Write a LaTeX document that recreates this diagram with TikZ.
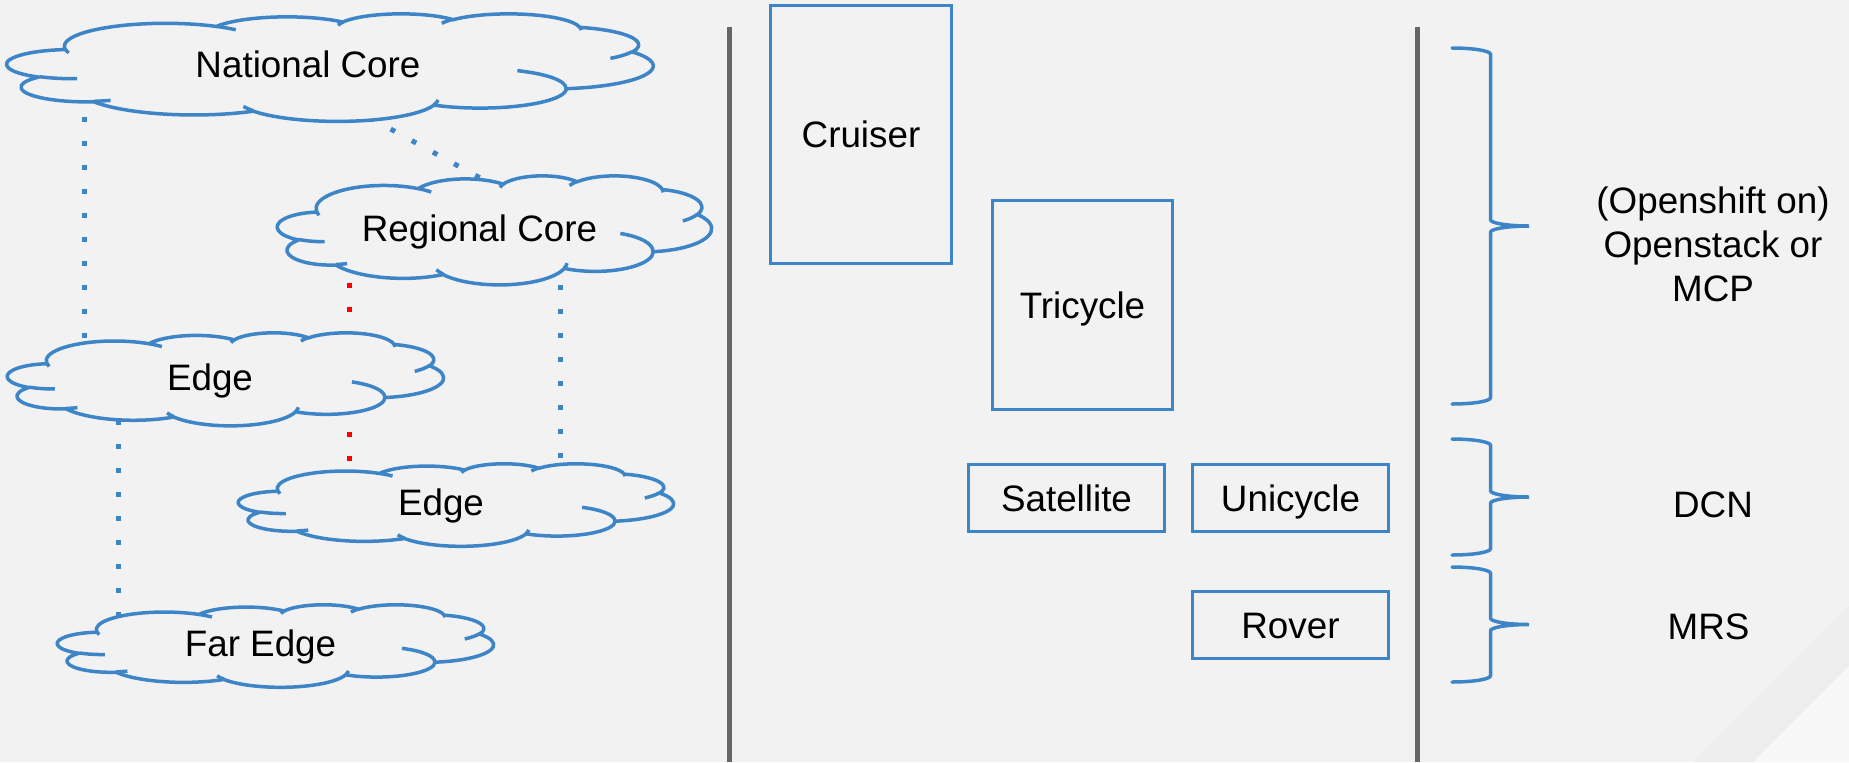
\documentclass[tikz,border=0pt]{standalone}
\usepackage{fontspec}
\setmainfont{Liberation Sans}

\definecolor{bg}{HTML}{F2F2F2}
\definecolor{bandgray}{HTML}{EDEDED}
\definecolor{cornerlight}{HTML}{F7F7F7}
\definecolor{sepgray}{HTML}{666666}
\definecolor{lineblue}{HTML}{3D85C6}
\definecolor{dotred}{HTML}{FF0000}

% Elliptical arc given with DrawingML-style (visual) angles:
% #1 style name, #2 x radius, #3 y radius, #4 start angle, #5 sweep
\newcommand\defcloudarc[5]{%
  \pgfmathsetmacro\cloudta{atan2((#2)*sin(#4),(#3)*cos(#4))}%
  \pgfmathsetmacro\cloudtb{atan2((#2)*sin((#4)+(#5)),(#3)*cos((#4)+(#5)))}%
  \pgfmathsetmacro\cloudtd{mod(\cloudtb-\cloudta+720,360)}%
  \edef\cloudtmp{\noexpand\tikzset{#1/.style={start angle=\cloudta, delta angle=\cloudtd, x radius=#2, y radius=#3}}}%
  \cloudtmp}

% outline of the cloud (box 43.2 x 43.2)
\defcloudarc{cloudA}{6.753}{9.190}{-190.4875}{123.7805}
\defcloudarc{cloudB}{5.333}{7.267}{-144.1024}{89.9452}
\defcloudarc{cloudC}{4.365}{5.945}{-145.8079}{99.7230}
\defcloudarc{cloudD}{4.857}{6.595}{-130.9861}{117.2417}
\defcloudarc{cloudE}{5.333}{7.273}{-78.7089}{109.0269}
\defcloudarc{cloudF}{6.775}{9.220}{-46.2673}{130.2690}
\defcloudarc{cloudG}{5.785}{7.867}{0.6250}{114.0333}
\defcloudarc{cloudH}{6.752}{9.215}{22.4516}{115.1726}
\defcloudarc{cloudI}{7.720}{10.543}{66.2426}{75.7110}
\defcloudarc{cloudJ}{4.360}{5.918}{-274.9421}{146.7356}
\defcloudarc{cloudK}{4.345}{5.945}{-246.8285}{152.5189}
% inner curls of the cloud
\defcloudarc{curlA}{4.345}{5.945}{86.7420}{26.4295}
\defcloudarc{curlB}{4.360}{5.918}{73.6105}{11.4475}
\defcloudarc{curlC}{6.752}{9.215}{137.6242}{14.0811}
\defcloudarc{curlD}{6.752}{9.215}{6.4533}{15.9984}
\defcloudarc{curlE}{5.785}{7.867}{-70.2924}{70.9174}
\defcloudarc{curlF}{5.333}{7.273}{30.3180}{27.7515}
\defcloudarc{curlG}{4.857}{6.595}{-13.7443}{14.8589}
\defcloudarc{curlH}{4.857}{6.595}{-149.1815}{18.1954}
\defcloudarc{curlI}{4.365}{5.945}{-163.4943}{17.6864}
\defcloudarc{curlJ}{6.753}{9.190}{-66.7070}{12.3194}
\defcloudarc{curlK}{6.753}{9.190}{157.6544}{11.8582}

% cloud in the box with top-left corner (#1,#2), width #3, height #4
\newcommand\drawcloud[4]{%
  \pgfmathsetlengthmacro\cloudxu{(#3)/86.4*1pt}%
  \pgfmathsetlengthmacro\cloudyu{-(#4)/86.4*1pt}%
  \begin{scope}[shift={(#1,#2)}, x=\cloudxu, y=\cloudyu]
    \filldraw[cloudline] (3.9,14.37) arc[cloudA] arc[cloudB] arc[cloudC]
      arc[cloudD] arc[cloudE] arc[cloudF] arc[cloudG] arc[cloudH]
      arc[cloudI] arc[cloudJ] arc[cloudK] -- cycle;
    \draw[cloudline, fill=none] (4.693,26.177) arc[curlA] (6.928,34.899) arc[curlB]
      (16.478,39.09) arc[curlC] (28.827,34.751) arc[curlD]
      (34.129,22.954) arc[curlE] (41.798,15.354) arc[curlF]
      (38.324,5.426) arc[curlG] (29.078,3.952) arc[curlH]
      (22.141,4.72) arc[curlI] (14,5.192) arc[curlJ]
      (4.127,15.789) arc[curlK];
  \end{scope}}

% right curly brace: left x, top y, bottom y, tip x
\newcommand\drawbrace[4]{%
  \pgfmathsetmacro\bracerx{((#4)-(#1))/2}%
  \pgfmathsetmacro\bracehc{((#4)+(#1))/2}%
  \pgfmathsetmacro\bracemid{((#2)+(#3))/2}%
  \draw[bracestroke] (#1,#2)
    arc[start angle=270, delta angle=90, x radius=\bracerx, y radius=6.3]
    -- (\bracehc,\bracemid-6.3)
    arc[start angle=180, delta angle=-90, x radius=\bracerx, y radius=6.3]
    arc[start angle=270, delta angle=-90, x radius=\bracerx, y radius=6.3]
    -- (\bracehc,#3-6.3)
    arc[start angle=0, delta angle=90, x radius=\bracerx, y radius=6.3];}

\tikzset{
  cloudline/.style={draw=lineblue, line width=1.75pt, fill=bg, line join=round},
  bracestroke/.style={draw=lineblue, line width=1.75pt, line cap=round},
  lbl/.style={font=\fontsize{18.4pt}{22pt}\selectfont, inner sep=0pt, text=black},
  box/.style={lbl, draw=lineblue, line width=1.5pt, text height=13.2pt, text depth=0pt},
  dotblue/.style={draw=lineblue, line width=2.5pt, dash pattern=on 2.5pt off 9.55pt},
  dotredline/.style={draw=dotred, line width=2.5pt, dash pattern=on 2.5pt off 9.55pt},
  separator/.style={draw=sepgray, line width=2.75pt},
}

\begin{document}
\begin{tikzpicture}[x=0.5pt, y=-0.5pt]
  % page and corner stripe
  \fill[bg] (0,0) rectangle (1849,762);
  \useasboundingbox (0,0) rectangle (1849,762);
  \fill[bandgray] (1693,762) -- (1849,606) -- (1849,762) -- cycle;
  \fill[cornerlight] (1753,762) -- (1849,666) -- (1849,762) -- cycle;

  % column separators
  \coordinate (sepA-top) at (729.5,26.7);
  \coordinate (sepA-bot) at (729.5,762);
  \coordinate (sepB-top) at (1417.5,26.7);
  \coordinate (sepB-bot) at (1417.5,762);
  \draw[separator] (sepA-top) -- (sepA-bot);
  \draw[separator] (sepB-top) -- (sepB-bot);

  % connector end points on the clouds
  \coordinate (nc-s1) at (84,116.5);
  \coordinate (e1-t1) at (84,342);
  \coordinate (nc-s2) at (369.5,117.5);
  \coordinate (rc-t) at (482,179);
  \coordinate (rc-b1) at (349,282.5);
  \coordinate (e1-t2) at (349,340);
  \coordinate (e1-b2) at (349,407.5);
  \coordinate (e2-t1) at (349,468);
  \coordinate (rc-b2) at (560,284.5);
  \coordinate (e2-t2) at (560,468);
  \coordinate (e1-b1) at (118,419.5);
  \coordinate (fe-t) at (118,618);

  % dotted links (the clouds are drawn over their ends)
  \draw[dotblue] (nc-s1) -- (e1-t1);
  \draw[dotblue] (nc-s2) -- (rc-t);
  \draw[dotredline] (rc-b1) -- (e1-t2);
  \draw[dotredline] (e1-b2) -- (e2-t1);
  \draw[dotblue] (rc-b2) -- (e2-t2);
  \draw[dotblue] (e1-b1) -- (fe-t);

  % clouds
  \drawcloud{7}{13.5}{646}{107.5}
  \drawcloud{277.5}{175.5}{434}{109}
  \drawcloud{7.5}{332.5}{436}{93}
  \drawcloud{238.5}{463.5}{435}{82.5}
  \drawcloud{57.5}{604.5}{436}{82.5}

  \node[lbl, anchor=base] (national) at (308,77.3) {National Core};
  \node[lbl, anchor=base] (regional) at (479.5,241) {Regional Core};
  \node[lbl, anchor=base] (edge1) at (210,390) {Edge};
  \node[lbl, anchor=base] (edge2) at (441,515) {Edge};
  \node[lbl, anchor=base] (faredge) at (260.5,656) {Far Edge};

  % deployment boxes
  \node[box, minimum width=90.5pt, minimum height=129pt] (cruiser) at (861,134.5) {Cruiser};
  \node[box, minimum width=90pt, minimum height=104.5pt] (tricycle) at (1082.5,305) {Tricycle};
  \node[box, minimum width=98pt, minimum height=33.5pt] (satellite) at (1066.5,498) {Satellite};
  \node[box, minimum width=98pt, minimum height=33.5pt] (unicycle) at (1290.5,498) {Unicycle};
  \node[box, minimum width=98pt, minimum height=33.5pt] (rover) at (1290.5,625) {Rover};

  % braces and platform labels
  \drawbrace{1452}{48}{404}{1529}
  \drawbrace{1452}{439}{555}{1529}
  \drawbrace{1452}{567}{682}{1529}

  \node[lbl, align=center] (osmcp) at (1713,244.6) {(Openshift on)\\Openstack or\\MCP};
  \node[lbl, anchor=base] (dcn) at (1713,517) {DCN};
  \node[lbl, anchor=base] (mrs) at (1708.5,639) {MRS};
\end{tikzpicture}
\end{document}
